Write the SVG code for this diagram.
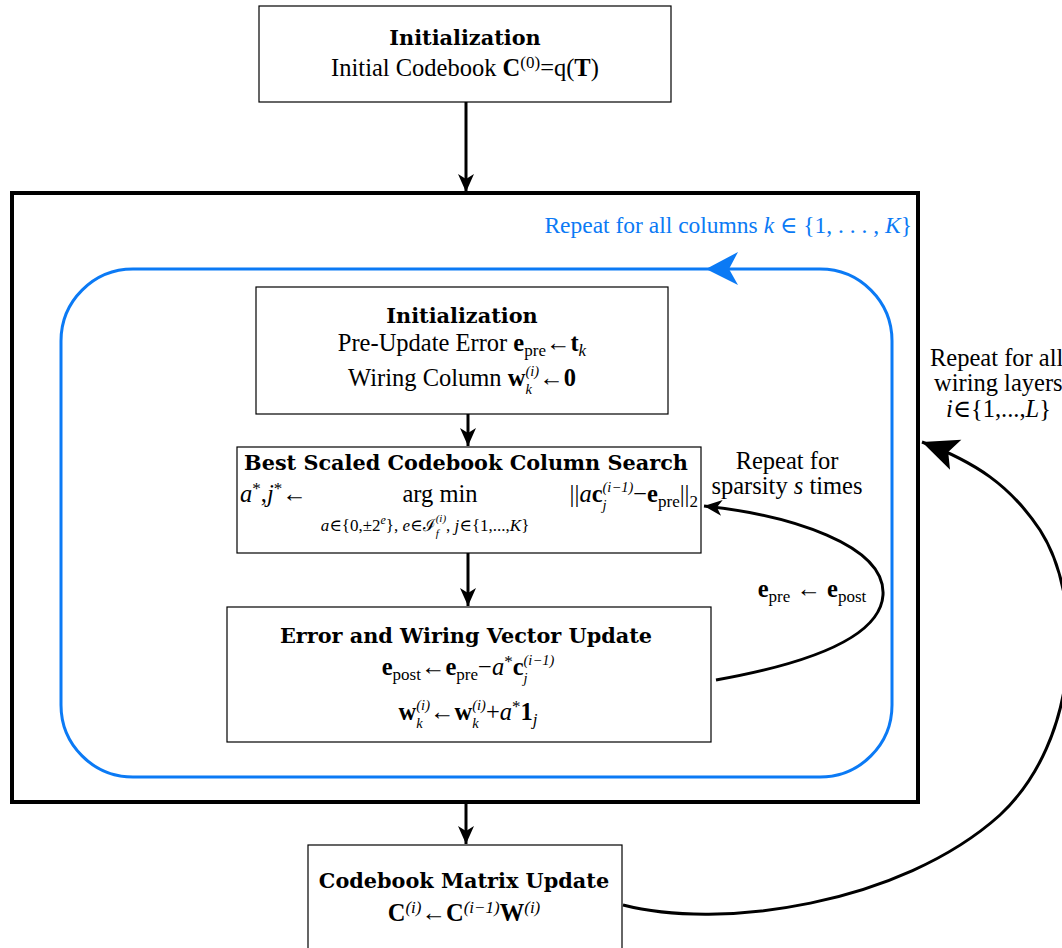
<svg xmlns="http://www.w3.org/2000/svg" width="1062" height="948" viewBox="0 0 1062 948">
<style>
text{font-family:"Liberation Serif","DejaVu Serif",serif;font-size:24.5px;fill:#000;text-anchor:middle}
.t{font-family:"DejaVu Serif","Liberation Serif",serif;font-weight:bold;font-size:20.8px}
.i{font-style:italic}
.b{font-weight:bold}
.s{font-size:17px}
.s2{font-size:14.5px}
.box{fill:#fff;stroke:#000;stroke-width:1.2}
.ln{fill:none;stroke:#000;stroke-width:3}
.blue{fill:#0b7af5}
</style>
<defs>
<marker id="ah" markerUnits="userSpaceOnUse" markerWidth="20" markerHeight="20" viewBox="0 0 20 20" refX="19" refY="10" orient="auto">
<path d="M1,2 L19,10 L1,18 L6,10 z" fill="#000"/>
</marker>
<marker id="ahL" markerUnits="userSpaceOnUse" markerWidth="40" markerHeight="40" viewBox="0 0 40 40" refX="38" refY="20" orient="auto">
<path d="M2,4 L38,20 L2,36 L10,20 z" fill="#000"/>
</marker>
</defs>

<g id="connectors">
<line class="ln" x1="466" y1="102" x2="466" y2="192" marker-end="url(#ah)"/>
<line class="ln" x1="468" y1="414" x2="468" y2="446" marker-end="url(#ah)"/>
<line class="ln" x1="468" y1="553" x2="468" y2="606" marker-end="url(#ah)"/>
<line class="ln" x1="466" y1="803" x2="466" y2="844" marker-end="url(#ah)"/>
<path class="ln" d="M716,680 C800,665 880,640 883,595 C886,545 790,515 704,506" marker-end="url(#ah)"/>
<path class="ln" d="M623,905 C720,930 900,905 1000,815 C1080,740 1085,600 1040,530 C1010,485 975,462 922,442" marker-end="url(#ahL)"/>
</g>

<g id="outer">
<rect x="12" y="193" width="906" height="609" fill="none" stroke="#000" stroke-width="4"/>
</g>

<g id="column-loop">
<rect x="61" y="269" width="831" height="508" rx="72" ry="72" fill="none" stroke="#0b7af5" stroke-width="3"/>
<path class="blue" d="M706,269 L738,252 L729,269 L738,285 z"/>
<text x="912" y="233" style="text-anchor:end;font-size:23.5px" class="blue">Repeat for all columns <tspan class="i">k</tspan> ∈ {1, . . . , <tspan class="i">K</tspan>}</text>
</g>

<g id="init-top">
<rect class="box" x="259" y="6" width="412" height="96"/>
<text class="t" x="465" y="45">Initialization</text>
<text x="465" y="76">Initial Codebook <tspan class="b">C</tspan><tspan class="s" dy="-8">(0)</tspan><tspan dy="8">=q(</tspan><tspan class="b">T</tspan>)</text>
</g>

<g id="init-inner">
<rect class="box" x="256" y="287" width="412" height="127"/>
<text class="t" x="462" y="323">Initialization</text>
<text x="462" y="351">Pre-Update Error <tspan class="b">e</tspan><tspan class="s" dy="5">pre</tspan><tspan dy="-5">←</tspan><tspan class="b">t</tspan><tspan class="s i" dy="5">k</tspan></text>
<text x="462" y="386">Wiring Column <tspan class="b">w</tspan><tspan class="s2 i" dy="8">k</tspan><tspan class="s2 i" dx="-6.4" dy="-18">(i)</tspan><tspan dy="10">←</tspan><tspan class="b">0</tspan></text>
</g>

<g id="search">
<rect class="box" x="237" y="447" width="464" height="106"/>
<text class="t" x="466" y="470">Best Scaled Codebook Column Search</text>
<text x="240" y="502" style="text-anchor:start"><tspan class="i">a</tspan><tspan class="s" dy="-8">*</tspan><tspan dy="8">,</tspan><tspan class="i">j</tspan><tspan class="s" dy="-8">*</tspan><tspan dy="8">←</tspan></text>
<text x="440" y="502">arg min</text>
<text x="698" y="502" style="text-anchor:end">||<tspan class="i">a</tspan><tspan class="b">c</tspan><tspan class="s2 i" dy="8">j</tspan><tspan class="s2 i" dx="-4" dy="-18">(i−1)</tspan><tspan dy="10">−</tspan><tspan class="b">e</tspan><tspan class="s" dy="5">pre</tspan><tspan dy="-5">||</tspan><tspan class="s" dy="5">2</tspan></text>
<text x="425" y="531" style="font-size:17px"><tspan class="i">a</tspan>∈{0,±2<tspan class="i" style="font-size:12px" dy="-7">e</tspan><tspan dy="7">}, </tspan><tspan class="i">e</tspan>∈ℐ<tspan class="i" style="font-size:11px" dy="6">f</tspan><tspan class="i" style="font-size:11px" dx="-3" dy="-15">(i)</tspan><tspan dy="9">, </tspan><tspan class="i">j</tspan>∈{1,...,<tspan class="i">K</tspan>}</text>
</g>

<g id="update">
<rect class="box" x="227" y="607" width="484" height="135"/>
<text class="t" x="466" y="643">Error and Wiring Vector Update</text>
<text x="468" y="675"><tspan class="b">e</tspan><tspan class="s" dy="5">post</tspan><tspan dy="-5">←</tspan><tspan class="b">e</tspan><tspan class="s" dy="5">pre</tspan><tspan dy="-5">−</tspan><tspan class="i">a</tspan><tspan class="s" dy="-8">*</tspan><tspan class="b" dy="8">c</tspan><tspan class="s2 i" dy="8">j</tspan><tspan class="s2 i" dx="-4" dy="-18">(i−1)</tspan></text>
<text x="468" y="720"><tspan class="b">w</tspan><tspan class="s2 i" dy="8">k</tspan><tspan class="s2 i" dx="-6.4" dy="-18">(i)</tspan><tspan dy="10">←</tspan><tspan class="b">w</tspan><tspan class="s2 i" dy="8">k</tspan><tspan class="s2 i" dx="-6.4" dy="-18">(i)</tspan><tspan dy="10">+</tspan><tspan class="i">a</tspan><tspan class="s" dy="-8">*</tspan><tspan class="b" dy="8">1</tspan><tspan class="s i" dy="5">j</tspan></text>
</g>

<g id="codebook-update">
<rect class="box" x="308" y="845" width="314" height="110"/>
<text class="t" x="464" y="888">Codebook Matrix Update</text>
<text x="464" y="921"><tspan class="b">C</tspan><tspan class="s i" dy="-8">(i)</tspan><tspan dy="8">←</tspan><tspan class="b">C</tspan><tspan class="s i" dy="-8">(i−1)</tspan><tspan class="b" dy="8">W</tspan><tspan class="s i" dy="-8">(i)</tspan></text>
</g>

<g id="labels">
<text x="787" y="469">Repeat for</text>
<text x="787" y="494">sparsity <tspan class="i">s</tspan> times</text>
<text x="812" y="597"><tspan class="b">e</tspan><tspan class="s" dy="5">pre</tspan><tspan dy="-5"> ← </tspan><tspan class="b">e</tspan><tspan class="s" dy="5">post</tspan></text>
<text x="930" y="366" style="text-anchor:start">Repeat for all</text>
<text x="934" y="391" style="text-anchor:start">wiring layers</text>
<text x="946" y="417" style="text-anchor:start"><tspan class="i">i</tspan>∈{1,...,<tspan class="i">L</tspan>}</text>
</g>
</svg>
